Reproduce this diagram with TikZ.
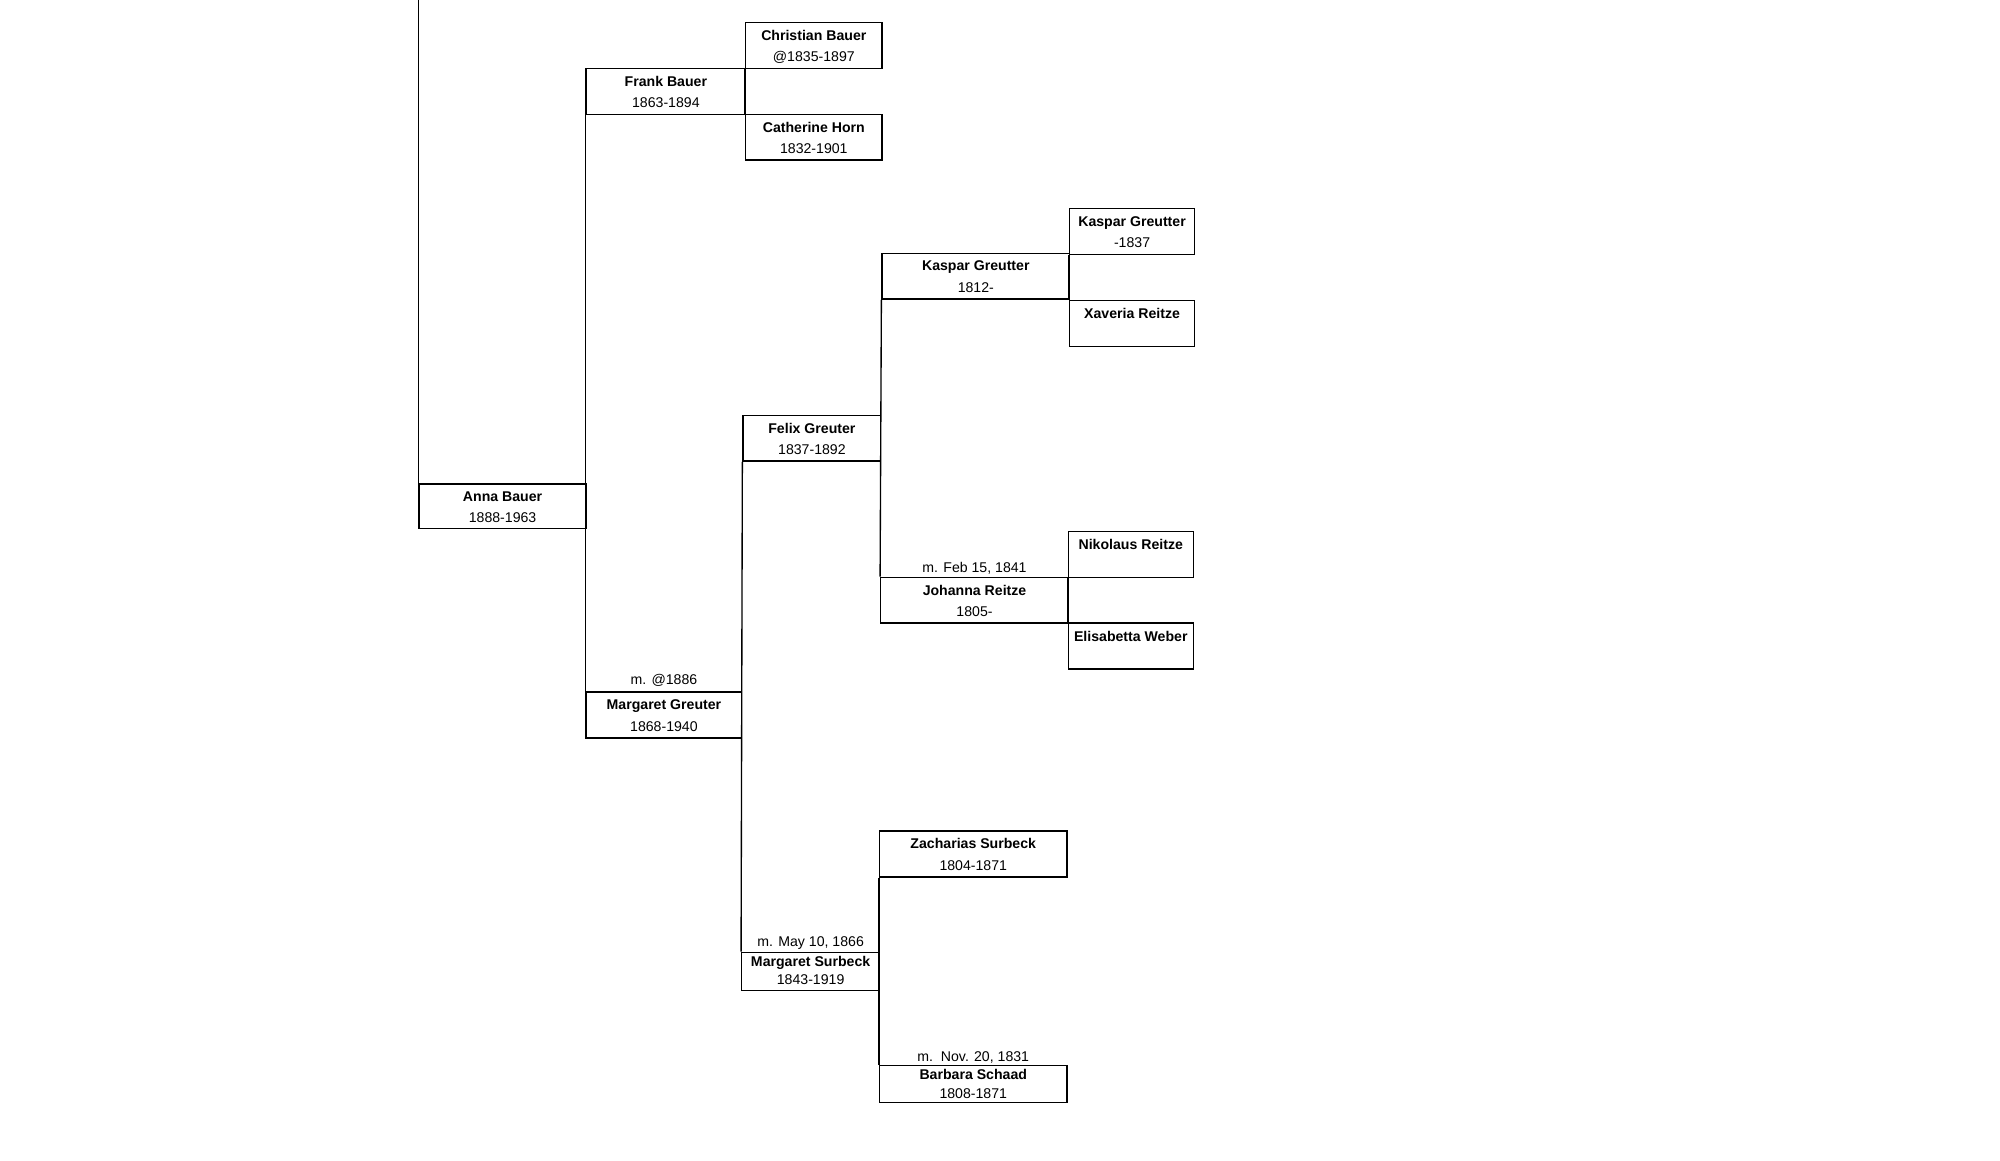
\documentclass[tikz,border=0pt]{standalone}
\usepackage{fontspec}
\setmainfont{Liberation Sans}
\usetikzlibrary{calc}
\begin{document}
\begin{tikzpicture}[x=0.02cm,y=-0.02cm,line width=0.6pt,
  txt/.style={font=\fontsize{6.3}{9.6}\selectfont,align=center,inner sep=0}]
\fill[white] (0,0) rectangle (1568,910);
\useasboundingbox (0,0) rectangle (1568,910);
% \pb{name}{x1}{y1}{x2}{y2}{Name}{years}
\newcommand\pb[7]{%
  \pgfmathsetmacro\ww{(#4-#2)*0.02}\pgfmathsetmacro\hh{(#5-#3)*0.02}%
  \node[draw,inner sep=0,minimum width=\ww cm,minimum height=\hh cm,anchor=north west] (#1) at (#2,#3) {};
  \node[txt,anchor=north] (#1t) at ($(#1.north)+(0,6)$) {\textbf{#6}\\#7};}
\newcommand\pbs[7]{%
  \pgfmathsetmacro\ww{(#4-#2)*0.02}\pgfmathsetmacro\hh{(#5-#3)*0.02}%
  \node[draw,inner sep=0,minimum width=\ww cm,minimum height=\hh cm,anchor=north west] (#1) at (#2,#3) {};
  \node[txt,anchor=north] (#1t) at ($(#1.north)+(0,3)$) {\textbf{#6}\\[-1.4pt]#7};}
\pb{anna}{328}{379}{459}{414}{Anna Bauer}{1888-1963}
\pb{frank}{459}{53}{584}{89}{Frank Bauer}{1863-1894}
\pb{chr}{584}{17}{691}{53}{Christian Bauer}{@1835-1897}
\pb{cat}{584}{89}{691}{125}{Catherine Horn}{1832-1901}
\pb{mg}{459}{542}{581}{578}{Margaret Greuter}{1868-1940}
\pb{felix}{582}{325}{690}{361}{Felix Greuter}{1837-1892}
\pb{kg}{691}{198}{838}{234}{Kaspar Greutter}{1812-}
\pb{kgs}{838}{163}{936}{199}{Kaspar Greutter}{-1837}
\pb{xr}{838}{235}{936}{271}{Xaveria Reitze}{}
\pb{jr}{690}{452}{837}{488}{Johanna Reitze}{1805-}
\pb{nr}{837}{416}{935}{452}{Nikolaus Reitze}{}
\pb{ew}{837}{488}{935}{524}{Elisabetta Weber}{}
\pbs{ms}{581}{746}{689}{776}{Margaret Surbeck}{1843-1919}
\pb{zs}{689}{651}{836}{687}{Zacharias Surbeck}{1804-1871}
\pbs{bs}{689}{835}{836}{864}{Barbara Schaad}{1808-1871}
\coordinate (top) at (328,0);
\draw (anna.north west) -- (top);
\draw (frank.south west) -- (mg.north west);
\draw (chr.south west) -- (cat.north west);
\draw (felix.south west) -- (ms.north west);
\draw (kg.south west) -- (jr.north west);
\draw (kgs.south west) -- (xr.north west);
\draw (nr.south west) -- (ew.north west);
\draw (zs.south west) -- (bs.north west);
\node[txt,anchor=south] (m1) at ($(mg.north)+(0,-3)$) {m. @1886};
\node[txt,anchor=south] (m2) at ($(jr.north)+(0,-1)$) {m. Feb 15, 1841};
\node[txt,anchor=south] (m3) at ($(ms.north)+(0,-1)$) {m. May 10, 1866};
\node[txt,anchor=south] (m4) at ($(bs.north)+(0,-1)$) {m.\ \ Nov. 20, 1831};
\end{tikzpicture}
\end{document}
